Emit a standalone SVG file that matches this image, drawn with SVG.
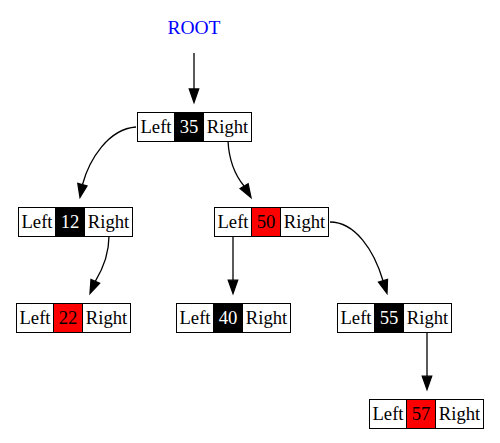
<svg xmlns="http://www.w3.org/2000/svg" width="500" height="443" viewBox="0 0 500 443" font-family="'Liberation Serif', 'Times New Roman', Times, serif">
<defs>
<style>
text{font-family:'Liberation Serif','Times New Roman',Times,serif;font-size:18.67px;text-anchor:middle}
.c{fill:#fff;stroke:#000;stroke-width:1}
.b{fill:#000;stroke:#000;stroke-width:1}
.r{fill:#f00;stroke:#000;stroke-width:1}
.w{fill:#fff}
.e{fill:none;stroke:#000;stroke-width:1.3}
.h{fill:#000;stroke:#000;stroke-width:1.3}
</style>
</defs>
<rect width="500" height="443" fill="#fff"/>
<g id="root"><text x="194" y="34" style="fill:#0000ff;font-size:19.5px">ROOT</text></g>
<g id="n35" transform="translate(137.5,112.5)">
<rect class="c" x="0" y="0" width="37" height="29"/><rect class="b" x="37" y="0" width="29" height="29"/><rect class="c" x="66" y="0" width="48" height="29"/>
<text x="18.5" y="20.5">Left</text><text class="w" x="51.5" y="20.5">35</text><text x="90" y="20.5">Right</text></g>
<g id="n12" transform="translate(18.5,207.5)">
<rect class="c" x="0" y="0" width="37" height="29"/><rect class="b" x="37" y="0" width="29" height="29"/><rect class="c" x="66" y="0" width="48" height="29"/>
<text x="18.5" y="20.5">Left</text><text class="w" x="51.5" y="20.5">12</text><text x="90" y="20.5">Right</text></g>
<g id="n50" transform="translate(214.5,207.5)">
<rect class="c" x="0" y="0" width="37" height="29"/><rect class="r" x="37" y="0" width="29" height="29"/><rect class="c" x="66" y="0" width="48" height="29"/>
<text x="18.5" y="20.5">Left</text><text x="51.5" y="20.5">50</text><text x="90" y="20.5">Right</text></g>
<g id="n22" transform="translate(16.5,303.5)">
<rect class="c" x="0" y="0" width="37" height="29"/><rect class="r" x="37" y="0" width="29" height="29"/><rect class="c" x="66" y="0" width="48" height="29"/>
<text x="18.5" y="20.5">Left</text><text x="51.5" y="20.5">22</text><text x="90" y="20.5">Right</text></g>
<g id="n40" transform="translate(176.5,303.5)">
<rect class="c" x="0" y="0" width="37" height="29"/><rect class="b" x="37" y="0" width="29" height="29"/><rect class="c" x="66" y="0" width="48" height="29"/>
<text x="18.5" y="20.5">Left</text><text class="w" x="51.5" y="20.5">40</text><text x="90" y="20.5">Right</text></g>
<g id="n55" transform="translate(337.5,303.5)">
<rect class="c" x="0" y="0" width="37" height="29"/><rect class="b" x="37" y="0" width="29" height="29"/><rect class="c" x="66" y="0" width="48" height="29"/>
<text x="18.5" y="20.5">Left</text><text class="w" x="51.5" y="20.5">55</text><text x="90" y="20.5">Right</text></g>
<g id="n57" transform="translate(369.5,399.5)">
<rect class="c" x="0" y="0" width="37" height="29"/><rect class="r" x="37" y="0" width="29" height="29"/><rect class="c" x="66" y="0" width="48" height="29"/>
<text x="18.5" y="20.5">Left</text><text x="51.5" y="20.5">57</text><text x="90" y="20.5">Right</text></g>
<g id="edges">
<path class="e" d="M194,53 V89"/><polygon class="h" points="189.3,89 194,102.5 198.7,89"/>
<path class="e" d="M136,127 C108,129 89,160 82.5,184.5"/><polygon class="h" points="87,186 80,197.5 77.8,183.3"/>
<path class="e" d="M228,141 C229,160 235,175 244,186"/><polygon class="h" points="248.1,183.7 251,197.5 240.1,188.5"/>
<path class="e" d="M109,236 C109,252 104,267 95.3,281.3"/><polygon class="h" points="99.6,283.2 90,293.5 91,279.4"/>
<path class="e" d="M233,236 V280.2"/><polygon class="h" points="228.3,280.2 233,293.5 237.7,280.2"/>
<path class="e" d="M330,222 C355,222 374,250 383,280.8"/><polygon class="h" points="387.5,279.4 387,293.5 378.5,282.2"/>
<path class="e" d="M427,333 V376.2"/><polygon class="h" points="422.3,376.2 427,389.5 431.7,376.2"/>
</g>
</svg>
